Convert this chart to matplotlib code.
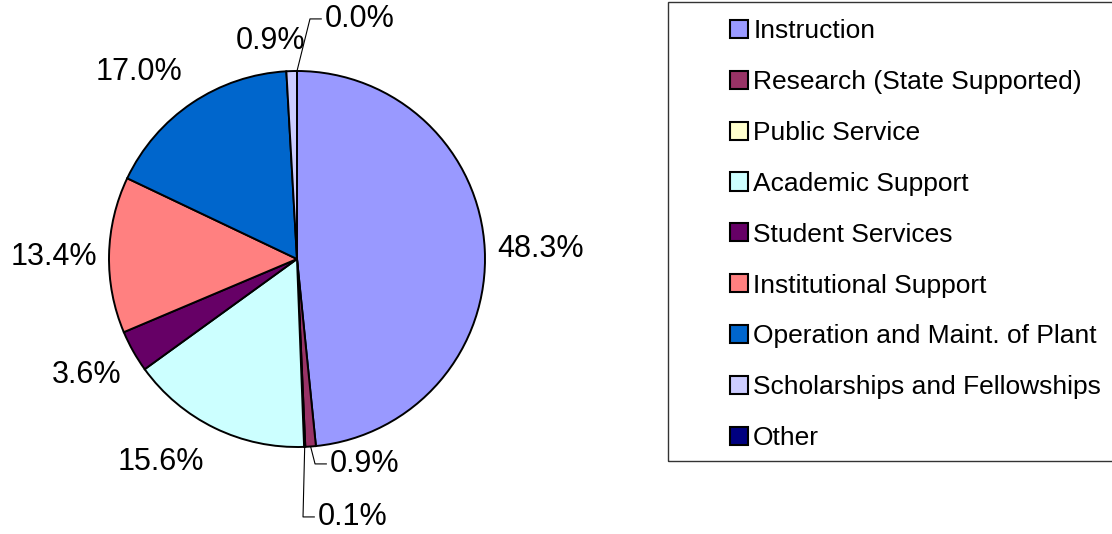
import matplotlib
matplotlib.use("Agg")
from matplotlib import pyplot as plt
from matplotlib.patches import Patch, Rectangle
import numpy as np

plt.rcParams["font.family"] = ["Liberation Sans", "DejaVu Sans"]

# data
categories = ["Instruction", "Research (State Supported)", "Public Service",
              "Academic Support", "Student Services", "Institutional Support",
              "Operation and Maint. of Plant", "Scholarships and Fellowships", "Other"]
shares = [48.3, 0.9, 0.1, 15.6, 3.6, 13.4, 17.0, 0.9, 0.0]
colors = ["#9999FF", "#993366", "#FFFFCC", "#CCFFFF", "#660066",
          "#FF8080", "#0066CC", "#CCCCFF", "#000080"]

# label placement (pie radius units) and whether a leader line is drawn
label_pos = [(1.064, 0.053, "left"), (0.176, -1.09, "left"), (0.112, -1.372, "left"),
             (-0.723, -1.08, "center"), (-1.117, -0.617, "center"), (-1.293, 0.011, "center"),
             (-0.84, 0.995, "center"), (-0.138, 1.16, "center"), (0.149, 1.277, "left")]
leader = [False, True, True, False, False, False, False, False, True]

W, H = 1112, 534
fig = plt.figure(figsize=(W / 100, H / 100), dpi=100)
cx, cy, r = 297, 259, 188
ax = fig.add_axes([(cx - r) / W, (H - cy - r) / H, 2 * r / W, 2 * r / H])

wedges, _ = ax.pie(shares, colors=colors, startangle=90, counterclock=False,
                   wedgeprops=dict(edgecolor="black", linewidth=1.4))
ax.set_xlim(-1, 1)
ax.set_ylim(-1, 1)
ax.axis("off")

for w, val, (tx, ty, ha), lead in zip(wedges, shares, label_pos, leader):
    ax.text(tx, ty, f"{val:.1f}%", ha=ha, va="center", fontsize=22, clip_on=False)
    if lead:
        ang = np.deg2rad((w.theta1 + w.theta2) / 2)
        px, py = np.cos(ang), np.sin(ang)
        ax.plot([px, tx - 0.08, tx - 0.02], [py, ty, ty], color="black",
                linewidth=0.8, clip_on=False)

# legend frame extends past the right edge
fig.patches.append(Rectangle((668 / W, (H - 461) / H), 0.5, 459 / H,
                             transform=fig.transFigure, fill=False,
                             edgecolor="#333333", linewidth=1.0))
handles = [Patch(facecolor=c, edgecolor="black", linewidth=1.5) for c in colors]
fig.legend(handles, categories, loc="upper left", bbox_to_anchor=(730 / W, 1 - 19 / H),
           frameon=False, fontsize=19, handlelength=0.68, handleheight=0.68,
           handletextpad=0.2, labelspacing=1.02, borderpad=0, borderaxespad=0)

fig.savefig("out.png", dpi=100)
